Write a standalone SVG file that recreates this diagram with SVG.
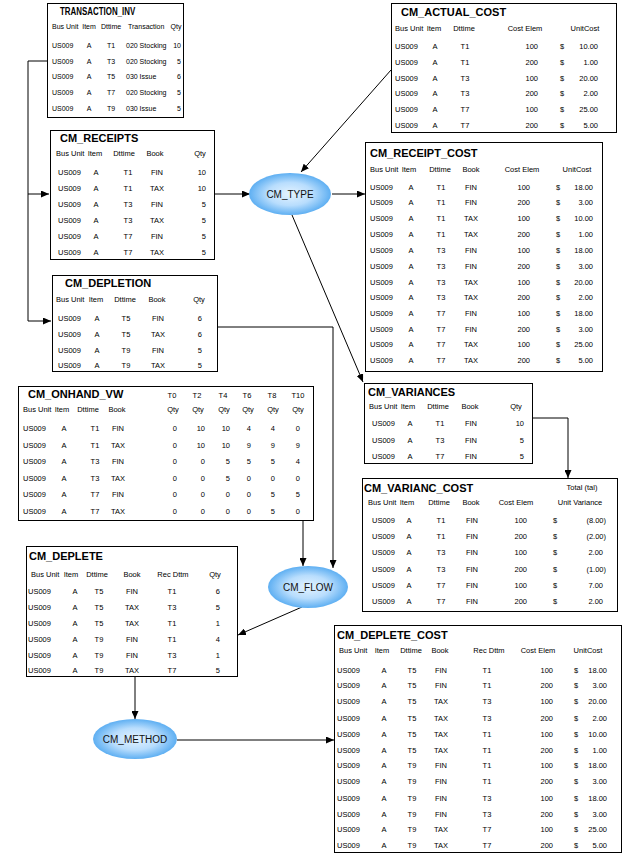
<svg xmlns="http://www.w3.org/2000/svg" width="625" height="857" viewBox="0 0 625 857">
<style>
.box{fill:#fff;stroke:#000;stroke-width:1}
.h{font:bold 11px "Liberation Sans",Arial,sans-serif;fill:#000}
.b{font:7.5px "Liberation Sans",Arial,sans-serif;fill:#000}
.s{font-size:7px}
.m{text-anchor:middle}
.e{text-anchor:end}
.ln{stroke:#000;stroke-width:1;fill:none}
.arr{marker-end:url(#ah)}
.el{fill:url(#eg)}
.et{font:10px "Liberation Sans",Arial,sans-serif;fill:#111;text-anchor:middle}
</style>
<defs>
<marker id="ah" markerUnits="userSpaceOnUse" markerWidth="8" markerHeight="7" refX="8" refY="3.5" orient="auto">
<path d="M0,0 L8,3.5 L0,7 z" fill="#000"/>
</marker>
<radialGradient id="eg" cx="50%" cy="50%" r="50%">
<stop offset="0" stop-color="#e4f3ff"/>
<stop offset="0.55" stop-color="#b8ddfd"/>
<stop offset="1" stop-color="#5eaff2"/>
</radialGradient>
</defs>

<g id="connectors">
<path class="ln arr" d="M47,61 H28 V321 H51"/>
<path class="ln arr" d="M28,194 H49"/>
<path class="ln arr" d="M214,194 H250"/>
<path class="ln arr" d="M391,70 L301,172"/>
<path class="ln arr" d="M332,194 H365"/>
<path class="ln arr" d="M292,215 L363,382"/>
<path class="ln arr" d="M218,327 H333 V568"/>
<path class="ln arr" d="M303,520 V566"/>
<path class="ln arr" d="M532,418 H568 V478"/>
<path class="ln arr" d="M302,607 L238,635"/>
<path class="ln arr" d="M135,677 V719"/>
<path class="ln arr" d="M177,740 H334"/>
</g>

<g id="transaction_inv">
<rect class="box" x="47.5" y="3.5" width="136" height="114"/>
<text class="h" transform="translate(60,15) scale(0.72,1)">TRANSACTION_INV</text>
<text class="b s" x="52" y="29">Bus Unit</text>
<text class="b s m" x="89" y="29">Item</text>
<text class="b s m" x="111" y="29">Dttime</text>
<text class="b s" x="128" y="29">Transaction</text>
<text class="b s m" x="176" y="29">Qty</text>
<text class="b s"><tspan x="52" y="48">US009</tspan><tspan x="52" y="64">US009</tspan><tspan x="52" y="79">US009</tspan><tspan x="52" y="95">US009</tspan><tspan x="52" y="111">US009</tspan></text>
<text class="b s m"><tspan x="89" y="48">A</tspan><tspan x="89" y="64">A</tspan><tspan x="89" y="79">A</tspan><tspan x="89" y="95">A</tspan><tspan x="89" y="111">A</tspan></text>
<text class="b s m"><tspan x="111" y="48">T1</tspan><tspan x="111" y="64">T3</tspan><tspan x="111" y="79">T5</tspan><tspan x="111" y="95">T7</tspan><tspan x="111" y="111">T9</tspan></text>
<text class="b s"><tspan x="126" y="48">020 Stocking</tspan><tspan x="126" y="64">020 Stocking</tspan><tspan x="126" y="79">030 Issue</tspan><tspan x="126" y="95">020 Stocking</tspan><tspan x="126" y="111">030 Issue</tspan></text>
<text class="b s e"><tspan x="181" y="48">10</tspan><tspan x="181" y="64">5</tspan><tspan x="181" y="79">6</tspan><tspan x="181" y="95">5</tspan><tspan x="181" y="111">5</tspan></text>
</g>

<g id="cm_actual_cost">
<rect class="box" x="391.5" y="3.5" width="225" height="129"/>
<text class="h" x="401" y="16">CM_ACTUAL_COST</text>
<text class="b" x="395" y="31">Bus Unit</text>
<text class="b m" x="434" y="31">Item</text>
<text class="b m" x="464" y="31">Dttime</text>
<text class="b m" x="525" y="31">Cost Elem</text>
<text class="b m" x="585" y="31">UnitCost</text>
<text class="b"><tspan x="395" y="49">US009</tspan><tspan x="395" y="65">US009</tspan><tspan x="395" y="81">US009</tspan><tspan x="395" y="96">US009</tspan><tspan x="395" y="112">US009</tspan><tspan x="395" y="128">US009</tspan></text>
<text class="b m"><tspan x="435" y="49">A</tspan><tspan x="435" y="65">A</tspan><tspan x="435" y="81">A</tspan><tspan x="435" y="96">A</tspan><tspan x="435" y="112">A</tspan><tspan x="435" y="128">A</tspan></text>
<text class="b m"><tspan x="465" y="49">T1</tspan><tspan x="465" y="65">T1</tspan><tspan x="465" y="81">T3</tspan><tspan x="465" y="96">T3</tspan><tspan x="465" y="112">T7</tspan><tspan x="465" y="128">T7</tspan></text>
<text class="b e"><tspan x="538" y="49">100</tspan><tspan x="538" y="65">200</tspan><tspan x="538" y="81">100</tspan><tspan x="538" y="96">200</tspan><tspan x="538" y="112">100</tspan><tspan x="538" y="128">200</tspan></text>
<text class="b"><tspan x="560" y="49">$</tspan><tspan x="560" y="65">$</tspan><tspan x="560" y="81">$</tspan><tspan x="560" y="96">$</tspan><tspan x="560" y="112">$</tspan><tspan x="560" y="128">$</tspan></text>
<text class="b e"><tspan x="598" y="49">10.00</tspan><tspan x="598" y="65">1.00</tspan><tspan x="598" y="81">20.00</tspan><tspan x="598" y="96">2.00</tspan><tspan x="598" y="112">25.00</tspan><tspan x="598" y="128">5.00</tspan></text>
</g>

<g id="cm_receipts">
<rect class="box" x="50.5" y="130.5" width="164" height="129"/>
<text class="h" x="60" y="142">CM_RECEIPTS</text>
<text class="b" x="56" y="156">Bus Unit</text>
<text class="b m" x="95" y="156">Item</text>
<text class="b m" x="124" y="156">Dttime</text>
<text class="b m" x="155" y="156">Book</text>
<text class="b m" x="200" y="156">Qty</text>
<text class="b"><tspan x="58" y="175">US009</tspan><tspan x="58" y="191">US009</tspan><tspan x="58" y="207">US009</tspan><tspan x="58" y="223">US009</tspan><tspan x="58" y="239">US009</tspan><tspan x="58" y="255">US009</tspan></text>
<text class="b m"><tspan x="96" y="175">A</tspan><tspan x="96" y="191">A</tspan><tspan x="96" y="207">A</tspan><tspan x="96" y="223">A</tspan><tspan x="96" y="239">A</tspan><tspan x="96" y="255">A</tspan></text>
<text class="b m"><tspan x="128" y="175">T1</tspan><tspan x="128" y="191">T1</tspan><tspan x="128" y="207">T3</tspan><tspan x="128" y="223">T3</tspan><tspan x="128" y="239">T7</tspan><tspan x="128" y="255">T7</tspan></text>
<text class="b m"><tspan x="157" y="175">FIN</tspan><tspan x="157" y="191">TAX</tspan><tspan x="157" y="207">FIN</tspan><tspan x="157" y="223">TAX</tspan><tspan x="157" y="239">FIN</tspan><tspan x="157" y="255">TAX</tspan></text>
<text class="b e"><tspan x="206" y="175">10</tspan><tspan x="206" y="191">10</tspan><tspan x="206" y="207">5</tspan><tspan x="206" y="223">5</tspan><tspan x="206" y="239">5</tspan><tspan x="206" y="255">5</tspan></text>
</g>

<g id="cm_receipt_cost">
<rect class="box" x="365.5" y="142.5" width="237" height="229"/>
<text class="h" x="370" y="157">CM_RECEIPT_COST</text>
<text class="b" x="370" y="172">Bus Unit</text>
<text class="b m" x="409" y="172">Item</text>
<text class="b m" x="440" y="172">Dttime</text>
<text class="b m" x="471" y="172">Book</text>
<text class="b m" x="522" y="172">Cost Elem</text>
<text class="b m" x="577" y="172">UnitCost</text>
<text class="b"><tspan x="370" y="190">US009</tspan><tspan x="370" y="205">US009</tspan><tspan x="370" y="221">US009</tspan><tspan x="370" y="237">US009</tspan><tspan x="370" y="253">US009</tspan><tspan x="370" y="269">US009</tspan><tspan x="370" y="285">US009</tspan><tspan x="370" y="300">US009</tspan><tspan x="370" y="316">US009</tspan><tspan x="370" y="332">US009</tspan><tspan x="370" y="347">US009</tspan><tspan x="370" y="363">US009</tspan></text>
<text class="b m"><tspan x="411" y="190">A</tspan><tspan x="411" y="205">A</tspan><tspan x="411" y="221">A</tspan><tspan x="411" y="237">A</tspan><tspan x="411" y="253">A</tspan><tspan x="411" y="269">A</tspan><tspan x="411" y="285">A</tspan><tspan x="411" y="300">A</tspan><tspan x="411" y="316">A</tspan><tspan x="411" y="332">A</tspan><tspan x="411" y="347">A</tspan><tspan x="411" y="363">A</tspan></text>
<text class="b m"><tspan x="441" y="190">T1</tspan><tspan x="441" y="205">T1</tspan><tspan x="441" y="221">T1</tspan><tspan x="441" y="237">T1</tspan><tspan x="441" y="253">T3</tspan><tspan x="441" y="269">T3</tspan><tspan x="441" y="285">T3</tspan><tspan x="441" y="300">T3</tspan><tspan x="441" y="316">T7</tspan><tspan x="441" y="332">T7</tspan><tspan x="441" y="347">T7</tspan><tspan x="441" y="363">T7</tspan></text>
<text class="b m"><tspan x="471" y="190">FIN</tspan><tspan x="471" y="205">FIN</tspan><tspan x="471" y="221">TAX</tspan><tspan x="471" y="237">TAX</tspan><tspan x="471" y="253">FIN</tspan><tspan x="471" y="269">FIN</tspan><tspan x="471" y="285">TAX</tspan><tspan x="471" y="300">TAX</tspan><tspan x="471" y="316">FIN</tspan><tspan x="471" y="332">FIN</tspan><tspan x="471" y="347">TAX</tspan><tspan x="471" y="363">TAX</tspan></text>
<text class="b e"><tspan x="530" y="190">100</tspan><tspan x="530" y="205">200</tspan><tspan x="530" y="221">100</tspan><tspan x="530" y="237">200</tspan><tspan x="530" y="253">100</tspan><tspan x="530" y="269">200</tspan><tspan x="530" y="285">100</tspan><tspan x="530" y="300">200</tspan><tspan x="530" y="316">100</tspan><tspan x="530" y="332">200</tspan><tspan x="530" y="347">100</tspan><tspan x="530" y="363">200</tspan></text>
<text class="b"><tspan x="556" y="190">$</tspan><tspan x="556" y="205">$</tspan><tspan x="556" y="221">$</tspan><tspan x="556" y="237">$</tspan><tspan x="556" y="253">$</tspan><tspan x="556" y="269">$</tspan><tspan x="556" y="285">$</tspan><tspan x="556" y="300">$</tspan><tspan x="556" y="316">$</tspan><tspan x="556" y="332">$</tspan><tspan x="556" y="347">$</tspan><tspan x="556" y="363">$</tspan></text>
<text class="b e"><tspan x="593" y="190">18.00</tspan><tspan x="593" y="205">3.00</tspan><tspan x="593" y="221">10.00</tspan><tspan x="593" y="237">1.00</tspan><tspan x="593" y="253">18.00</tspan><tspan x="593" y="269">3.00</tspan><tspan x="593" y="285">20.00</tspan><tspan x="593" y="300">2.00</tspan><tspan x="593" y="316">18.00</tspan><tspan x="593" y="332">3.00</tspan><tspan x="593" y="347">25.00</tspan><tspan x="593" y="363">5.00</tspan></text>
</g>

<g id="cm_depletion">
<rect class="box" x="52.5" y="275.5" width="165" height="96"/>
<text class="h" x="65" y="287">CM_DEPLETION</text>
<text class="b" x="56" y="302">Bus Unit</text>
<text class="b m" x="96" y="302">Item</text>
<text class="b m" x="125" y="302">Dttime</text>
<text class="b m" x="157" y="302">Book</text>
<text class="b m" x="199" y="302">Qty</text>
<text class="b"><tspan x="58" y="321">US009</tspan><tspan x="58" y="337">US009</tspan><tspan x="58" y="353">US009</tspan><tspan x="58" y="368">US009</tspan></text>
<text class="b m"><tspan x="97" y="321">A</tspan><tspan x="97" y="337">A</tspan><tspan x="97" y="353">A</tspan><tspan x="97" y="368">A</tspan></text>
<text class="b m"><tspan x="126" y="321">T5</tspan><tspan x="126" y="337">T5</tspan><tspan x="126" y="353">T9</tspan><tspan x="126" y="368">T9</tspan></text>
<text class="b m"><tspan x="158" y="321">FIN</tspan><tspan x="158" y="337">TAX</tspan><tspan x="158" y="353">FIN</tspan><tspan x="158" y="368">TAX</tspan></text>
<text class="b e"><tspan x="202" y="321">6</tspan><tspan x="202" y="337">6</tspan><tspan x="202" y="353">5</tspan><tspan x="202" y="368">5</tspan></text>
</g>

<g id="cm_onhand_vw">
<rect class="box" x="18.5" y="386.5" width="295" height="134"/>
<text class="h" x="28" y="398">CM_ONHAND_VW</text>
<text class="b m" y="398"><tspan x="172">T0</tspan><tspan x="197">T2</tspan><tspan x="223">T4</tspan><tspan x="247">T6</tspan><tspan x="272">T8</tspan><tspan x="298">T10</tspan></text>
<text class="b" x="23" y="412">Bus Unit</text>
<text class="b m" x="62" y="412">Item</text>
<text class="b m" x="88" y="412">Dttime</text>
<text class="b m" x="117" y="412">Book</text>
<text class="b m" y="412"><tspan x="173">Qty</tspan><tspan x="198">Qty</tspan><tspan x="224">Qty</tspan><tspan x="248">Qty</tspan><tspan x="273">Qty</tspan><tspan x="298">Qty</tspan></text>
<text class="b"><tspan x="23" y="431">US009</tspan><tspan x="23" y="448">US009</tspan><tspan x="23" y="464">US009</tspan><tspan x="23" y="481">US009</tspan><tspan x="23" y="497">US009</tspan><tspan x="23" y="514">US009</tspan></text>
<text class="b m"><tspan x="64" y="431">A</tspan><tspan x="64" y="448">A</tspan><tspan x="64" y="464">A</tspan><tspan x="64" y="481">A</tspan><tspan x="64" y="497">A</tspan><tspan x="64" y="514">A</tspan></text>
<text class="b m"><tspan x="95" y="431">T1</tspan><tspan x="95" y="448">T1</tspan><tspan x="95" y="464">T3</tspan><tspan x="95" y="481">T3</tspan><tspan x="95" y="497">T7</tspan><tspan x="95" y="514">T7</tspan></text>
<text class="b m"><tspan x="118" y="431">FIN</tspan><tspan x="118" y="448">TAX</tspan><tspan x="118" y="464">FIN</tspan><tspan x="118" y="481">TAX</tspan><tspan x="118" y="497">FIN</tspan><tspan x="118" y="514">TAX</tspan></text>
<text class="b e"><tspan x="177" y="431">0</tspan><tspan x="177" y="448">0</tspan><tspan x="177" y="464">0</tspan><tspan x="177" y="481">0</tspan><tspan x="177" y="497">0</tspan><tspan x="177" y="514">0</tspan></text>
<text class="b e"><tspan x="205" y="431">10</tspan><tspan x="205" y="448">10</tspan><tspan x="205" y="464">0</tspan><tspan x="205" y="481">0</tspan><tspan x="205" y="497">0</tspan><tspan x="205" y="514">0</tspan></text>
<text class="b e"><tspan x="230" y="431">10</tspan><tspan x="230" y="448">10</tspan><tspan x="230" y="464">5</tspan><tspan x="230" y="481">5</tspan><tspan x="230" y="497">0</tspan><tspan x="230" y="514">0</tspan></text>
<text class="b e"><tspan x="251" y="431">4</tspan><tspan x="251" y="448">9</tspan><tspan x="251" y="464">5</tspan><tspan x="251" y="481">0</tspan><tspan x="251" y="497">0</tspan><tspan x="251" y="514">0</tspan></text>
<text class="b e"><tspan x="275" y="431">4</tspan><tspan x="275" y="448">9</tspan><tspan x="275" y="464">5</tspan><tspan x="275" y="481">0</tspan><tspan x="275" y="497">5</tspan><tspan x="275" y="514">5</tspan></text>
<text class="b e"><tspan x="300" y="431">0</tspan><tspan x="300" y="448">9</tspan><tspan x="300" y="464">4</tspan><tspan x="300" y="481">0</tspan><tspan x="300" y="497">5</tspan><tspan x="300" y="514">0</tspan></text>
</g>

<g id="cm_variances">
<rect class="box" x="364.5" y="383.5" width="168" height="80"/>
<text class="h" x="368" y="396">CM_VARIANCES</text>
<text class="b" x="369" y="409">Bus Unit</text>
<text class="b m" x="408" y="409">Item</text>
<text class="b m" x="438" y="409">Dttime</text>
<text class="b m" x="470" y="409">Book</text>
<text class="b m" x="516" y="409">Qty</text>
<text class="b"><tspan x="372" y="426">US009</tspan><tspan x="372" y="443">US009</tspan><tspan x="372" y="459">US009</tspan></text>
<text class="b m"><tspan x="410" y="426">A</tspan><tspan x="410" y="443">A</tspan><tspan x="410" y="459">A</tspan></text>
<text class="b m"><tspan x="440" y="426">T1</tspan><tspan x="440" y="443">T3</tspan><tspan x="440" y="459">T7</tspan></text>
<text class="b m"><tspan x="471" y="426">FIN</tspan><tspan x="471" y="443">FIN</tspan><tspan x="471" y="459">FIN</tspan></text>
<text class="b e"><tspan x="524" y="426">10</tspan><tspan x="524" y="443">5</tspan><tspan x="524" y="459">5</tspan></text>
</g>

<g id="cm_varianc_cost">
<rect class="box" x="362.5" y="478.5" width="255" height="133"/>
<text class="h" x="364" y="492">CM_VARIANC_COST</text>
<text class="b m" x="582" y="490">Total (tal)</text>
<text class="b" x="368" y="505">Bus Unit</text>
<text class="b m" x="407" y="505">Item</text>
<text class="b m" x="439" y="505">Dttime</text>
<text class="b m" x="471" y="505">Book</text>
<text class="b m" x="516" y="505">Cost Elem</text>
<text class="b m" x="580" y="505">Unit Variance</text>
<text class="b"><tspan x="372" y="523">US009</tspan><tspan x="372" y="539">US009</tspan><tspan x="372" y="555">US009</tspan><tspan x="372" y="572">US009</tspan><tspan x="372" y="588">US009</tspan><tspan x="372" y="604">US009</tspan></text>
<text class="b m"><tspan x="409" y="523">A</tspan><tspan x="409" y="539">A</tspan><tspan x="409" y="555">A</tspan><tspan x="409" y="572">A</tspan><tspan x="409" y="588">A</tspan><tspan x="409" y="604">A</tspan></text>
<text class="b m"><tspan x="441" y="523">T1</tspan><tspan x="441" y="539">T1</tspan><tspan x="441" y="555">T3</tspan><tspan x="441" y="572">T3</tspan><tspan x="441" y="588">T7</tspan><tspan x="441" y="604">T7</tspan></text>
<text class="b m"><tspan x="472" y="523">FIN</tspan><tspan x="472" y="539">FIN</tspan><tspan x="472" y="555">FIN</tspan><tspan x="472" y="572">FIN</tspan><tspan x="472" y="588">FIN</tspan><tspan x="472" y="604">FIN</tspan></text>
<text class="b e"><tspan x="527" y="523">100</tspan><tspan x="527" y="539">200</tspan><tspan x="527" y="555">100</tspan><tspan x="527" y="572">200</tspan><tspan x="527" y="588">100</tspan><tspan x="527" y="604">200</tspan></text>
<text class="b"><tspan x="553" y="523">$</tspan><tspan x="553" y="539">$</tspan><tspan x="553" y="555">$</tspan><tspan x="553" y="572">$</tspan><tspan x="553" y="588">$</tspan><tspan x="553" y="604">$</tspan></text>
<text class="b e"><tspan x="606" y="523">(8.00)</tspan><tspan x="606" y="539">(2.00)</tspan><tspan x="603" y="555">2.00</tspan><tspan x="606" y="572">(1.00)</tspan><tspan x="603" y="588">7.00</tspan><tspan x="603" y="604">2.00</tspan></text>
</g>

<g id="cm_deplete">
<rect class="box" x="26.5" y="546.5" width="211" height="130"/>
<text class="h" x="29" y="560">CM_DEPLETE</text>
<text class="b" x="31" y="577">Bus Unit</text>
<text class="b m" x="71" y="577">Item</text>
<text class="b m" x="97" y="577">Dttime</text>
<text class="b m" x="132" y="577">Book</text>
<text class="b m" x="173" y="577">Rec Dttm</text>
<text class="b m" x="215" y="577">Qty</text>
<text class="b"><tspan x="28" y="594">US009</tspan><tspan x="28" y="610">US009</tspan><tspan x="28" y="626">US009</tspan><tspan x="28" y="642">US009</tspan><tspan x="28" y="658">US009</tspan><tspan x="28" y="673">US009</tspan></text>
<text class="b m"><tspan x="75" y="594">A</tspan><tspan x="75" y="610">A</tspan><tspan x="75" y="626">A</tspan><tspan x="75" y="642">A</tspan><tspan x="75" y="658">A</tspan><tspan x="75" y="673">A</tspan></text>
<text class="b m"><tspan x="99" y="594">T5</tspan><tspan x="99" y="610">T5</tspan><tspan x="99" y="626">T5</tspan><tspan x="99" y="642">T9</tspan><tspan x="99" y="658">T9</tspan><tspan x="99" y="673">T9</tspan></text>
<text class="b m"><tspan x="132" y="594">FIN</tspan><tspan x="132" y="610">TAX</tspan><tspan x="132" y="626">TAX</tspan><tspan x="132" y="642">FIN</tspan><tspan x="132" y="658">FIN</tspan><tspan x="132" y="673">TAX</tspan></text>
<text class="b m"><tspan x="172" y="594">T1</tspan><tspan x="172" y="610">T3</tspan><tspan x="172" y="626">T1</tspan><tspan x="172" y="642">T1</tspan><tspan x="172" y="658">T3</tspan><tspan x="172" y="673">T7</tspan></text>
<text class="b e"><tspan x="220" y="594">6</tspan><tspan x="220" y="610">5</tspan><tspan x="220" y="626">1</tspan><tspan x="220" y="642">4</tspan><tspan x="220" y="658">1</tspan><tspan x="220" y="673">5</tspan></text>
</g>

<g id="cm_deplete_cost">
<rect class="box" x="334.5" y="625.5" width="287" height="227"/>
<text class="h" x="337" y="639">CM_DEPLETE_COST</text>
<text class="b" x="339" y="653">Bus Unit</text>
<text class="b m" x="382" y="653">Item</text>
<text class="b m" x="411" y="653">Dttime</text>
<text class="b m" x="440" y="653">Book</text>
<text class="b m" x="489" y="653">Rec Dttm</text>
<text class="b m" x="538" y="653">Cost Elem</text>
<text class="b m" x="588" y="653">UnitCost</text>
<text class="b"><tspan x="337" y="673">US009</tspan><tspan x="337" y="688">US009</tspan><tspan x="337" y="704">US009</tspan><tspan x="337" y="721">US009</tspan><tspan x="337" y="737">US009</tspan><tspan x="337" y="753">US009</tspan><tspan x="337" y="768">US009</tspan><tspan x="337" y="784">US009</tspan><tspan x="337" y="801">US009</tspan><tspan x="337" y="817">US009</tspan><tspan x="337" y="832">US009</tspan><tspan x="337" y="848">US009</tspan></text>
<text class="b m"><tspan x="384" y="673">A</tspan><tspan x="384" y="688">A</tspan><tspan x="384" y="704">A</tspan><tspan x="384" y="721">A</tspan><tspan x="384" y="737">A</tspan><tspan x="384" y="753">A</tspan><tspan x="384" y="768">A</tspan><tspan x="384" y="784">A</tspan><tspan x="384" y="801">A</tspan><tspan x="384" y="817">A</tspan><tspan x="384" y="832">A</tspan><tspan x="384" y="848">A</tspan></text>
<text class="b m"><tspan x="412" y="673">T5</tspan><tspan x="412" y="688">T5</tspan><tspan x="412" y="704">T5</tspan><tspan x="412" y="721">T5</tspan><tspan x="412" y="737">T5</tspan><tspan x="412" y="753">T5</tspan><tspan x="412" y="768">T9</tspan><tspan x="412" y="784">T9</tspan><tspan x="412" y="801">T9</tspan><tspan x="412" y="817">T9</tspan><tspan x="412" y="832">T9</tspan><tspan x="412" y="848">T9</tspan></text>
<text class="b m"><tspan x="441" y="673">FIN</tspan><tspan x="441" y="688">FIN</tspan><tspan x="441" y="704">TAX</tspan><tspan x="441" y="721">TAX</tspan><tspan x="441" y="737">TAX</tspan><tspan x="441" y="753">TAX</tspan><tspan x="441" y="768">FIN</tspan><tspan x="441" y="784">FIN</tspan><tspan x="441" y="801">FIN</tspan><tspan x="441" y="817">FIN</tspan><tspan x="441" y="832">TAX</tspan><tspan x="441" y="848">TAX</tspan></text>
<text class="b m"><tspan x="487" y="673">T1</tspan><tspan x="487" y="688">T1</tspan><tspan x="487" y="704">T3</tspan><tspan x="487" y="721">T3</tspan><tspan x="487" y="737">T1</tspan><tspan x="487" y="753">T1</tspan><tspan x="487" y="768">T1</tspan><tspan x="487" y="784">T1</tspan><tspan x="487" y="801">T3</tspan><tspan x="487" y="817">T3</tspan><tspan x="487" y="832">T7</tspan><tspan x="487" y="848">T7</tspan></text>
<text class="b e"><tspan x="553" y="673">100</tspan><tspan x="553" y="688">200</tspan><tspan x="553" y="704">100</tspan><tspan x="553" y="721">200</tspan><tspan x="553" y="737">100</tspan><tspan x="553" y="753">200</tspan><tspan x="553" y="768">100</tspan><tspan x="553" y="784">200</tspan><tspan x="553" y="801">100</tspan><tspan x="553" y="817">200</tspan><tspan x="553" y="832">100</tspan><tspan x="553" y="848">200</tspan></text>
<text class="b"><tspan x="574" y="673">$</tspan><tspan x="574" y="688">$</tspan><tspan x="574" y="704">$</tspan><tspan x="574" y="721">$</tspan><tspan x="574" y="737">$</tspan><tspan x="574" y="753">$</tspan><tspan x="574" y="768">$</tspan><tspan x="574" y="784">$</tspan><tspan x="574" y="801">$</tspan><tspan x="574" y="817">$</tspan><tspan x="574" y="832">$</tspan><tspan x="574" y="848">$</tspan></text>
<text class="b e"><tspan x="607" y="673">18.00</tspan><tspan x="607" y="688">3.00</tspan><tspan x="607" y="704">20.00</tspan><tspan x="607" y="721">2.00</tspan><tspan x="607" y="737">10.00</tspan><tspan x="607" y="753">1.00</tspan><tspan x="607" y="768">18.00</tspan><tspan x="607" y="784">3.00</tspan><tspan x="607" y="801">18.00</tspan><tspan x="607" y="817">3.00</tspan><tspan x="607" y="832">25.00</tspan><tspan x="607" y="848">5.00</tspan></text>
</g>

<g id="cm_type">
<ellipse class="el" cx="290" cy="194" rx="41" ry="21"/>
<text class="et" x="290" y="198">CM_TYPE</text>
</g>
<g id="cm_flow">
<ellipse class="el" cx="308" cy="587" rx="40" ry="21"/>
<text class="et" x="308" y="591">CM_FLOW</text>
</g>
<g id="cm_method">
<ellipse class="el" cx="135" cy="739" rx="42" ry="20"/>
<text class="et" x="135" y="743">CM_METHOD</text>
</g>
</svg>
